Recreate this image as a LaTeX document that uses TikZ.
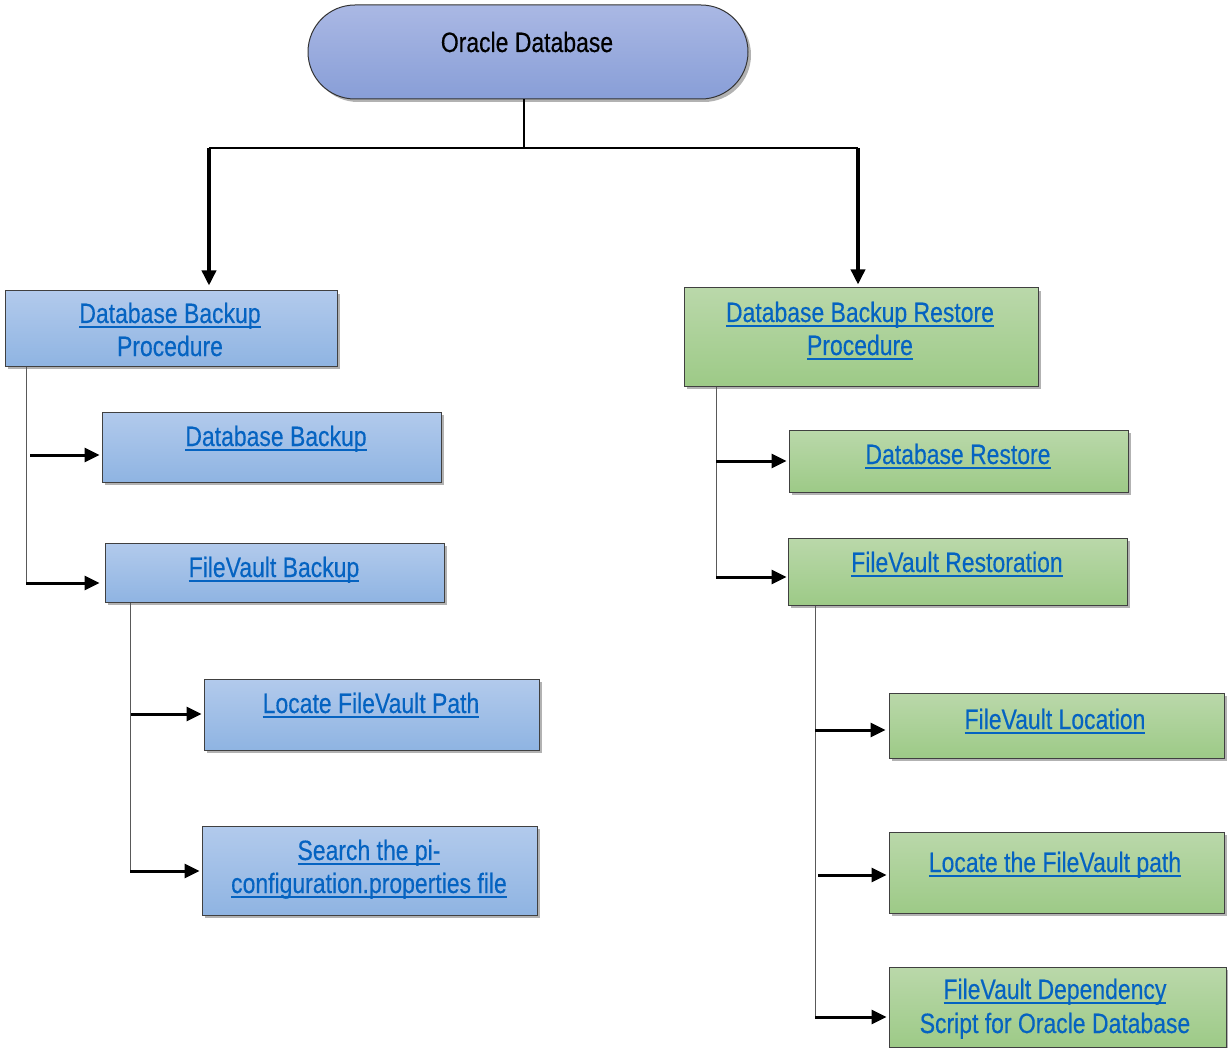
\documentclass[tikz,border=0pt]{standalone}
\usepackage{fontspec}
\setmainfont{Liberation Sans}[FakeStretch=0.82,FakeBold=0.35]
\usetikzlibrary{arrows.meta,shadows}
\definecolor{linkc}{HTML}{0563C1}
\definecolor{btop}{RGB}{178,202,236}
\definecolor{bbot}{RGB}{143,180,226}
\definecolor{gtop}{RGB}{186,216,170}
\definecolor{gbot}{RGB}{157,202,135}
\definecolor{rtop}{RGB}{170,184,228}
\definecolor{rbot}{RGB}{136,158,215}
\newsavebox\ulbox
\newcommand\ulink[1]{\sbox\ulbox{#1}\rlap{\rule[-0.17em]{\wd\ulbox}{0.07em}}\usebox\ulbox}
\begin{document}
\begin{tikzpicture}[x=1pt,y=-1pt,
  font=\fontsize{28}{33}\selectfont,
  boxbase/.style={draw=black!75, line width=1pt, rectangle, inner sep=0pt,
    drop shadow={shadow xshift=3pt, shadow yshift=-3pt, opacity=0.3, fill=black}},
  bluebox/.style={boxbase, top color=btop, bottom color=bbot},
  greenbox/.style={boxbase, top color=gtop, bottom color=gbot},
  lbl/.style={anchor=base, inner sep=0pt, text=linkc},
  trunk/.style={draw=black!65, line width=1pt},
  joinline/.style={draw=black, line width=1.3pt},
  harrow/.style={line width=3pt, -{Triangle[length=15pt,width=14pt]}},
  varrow/.style={line width=3.5pt, -{Triangle[length=15pt,width=14pt]}}]
\useasboundingbox (0,0) rectangle (1228,1048);
\fill[white] (0,0) rectangle (1228,1048);

% root
\node[draw=black!80, line width=1pt, rounded corners=47pt, minimum width=440pt, minimum height=94pt,
  top color=rtop, bottom color=rbot, inner sep=0pt,
  drop shadow={shadow xshift=3pt, shadow yshift=-3pt, opacity=0.3, fill=black}] (root) at (528,52) {};
\node[anchor=base, inner sep=0pt] (roott) at (527,52) {Oracle Database};

% blue boxes
\node[bluebox, minimum width=332pt, minimum height=75pt] (b1) at (171,328.5) {};
\node[bluebox, minimum width=339pt, minimum height=70pt] (b2) at (271.5,447) {};
\node[bluebox, minimum width=339pt, minimum height=59pt] (b3) at (274.5,572.5) {};
\node[bluebox, minimum width=335pt, minimum height=71pt] (b4) at (371.5,714.5) {};
\node[bluebox, minimum width=335pt, minimum height=89pt] (b5) at (369.5,870.5) {};

% green boxes
\node[greenbox, minimum width=354pt, minimum height=98pt] (g1) at (861,337) {};
\node[greenbox, minimum width=339pt, minimum height=62pt] (g2) at (958.5,461) {};
\node[greenbox, minimum width=339pt, minimum height=67pt] (g3) at (957.5,571.5) {};
\node[greenbox, minimum width=335pt, minimum height=65pt] (g4) at (1056.5,725.5) {};
\node[greenbox, minimum width=335pt, minimum height=81pt] (g5) at (1056.5,872.5) {};
\node[greenbox, minimum width=337pt, minimum height=80pt] (g6) at (1057.5,1007) {};

% labels
\node[lbl] (b1t1) at (170,323) {\ulink{Database Backup}};
\node[lbl] (b1t2) at (170,356) {Procedure};
\node[lbl] (b2t) at (276,446) {\ulink{Database Backup}};
\node[lbl] (b3t) at (274,577) {\ulink{FileVault Backup}};
\node[lbl] (b4t) at (371,713) {\ulink{Locate FileVault Path}};
\node[lbl] (b5t1) at (369,860) {\ulink{Search the pi-}};
\node[lbl] (b5t2) at (369,893) {\ulink{configuration.properties file}};
\node[lbl] (g1t1) at (860,322) {\ulink{Database Backup Restore}};
\node[lbl] (g1t2) at (860,355) {\ulink{Procedure}};
\node[lbl] (g2t) at (958,464) {\ulink{Database Restore}};
\node[lbl] (g3t) at (957,572) {\ulink{FileVault Restoration}};
\node[lbl] (g4t) at (1055,729) {\ulink{FileVault Location}};
\node[lbl] (g5t) at (1055,872) {\ulink{Locate the FileVault path}};
\node[lbl] (g6t1) at (1055,999) {\ulink{FileVault Dependency}};
\node[lbl] (g6t2) at (1055,1033) {Script for Oracle Database};

% top connectors
\coordinate (j) at (524,148);
\coordinate (jl) at (209,148);
\coordinate (jr) at (858,148);
\draw[joinline] (root.south -| j) -- (j);
\draw[joinline] (jl) -- (jr);
\draw[varrow, shorten >=5pt] (jl) -- (jl |- b1.north);
\draw[varrow, shorten >=3pt] (jr) -- (jr |- g1.north);

% left trunk 1
\coordinate (t1) at (26,583);
\coordinate (a1) at (30,455);
\draw[trunk] (t1 |- b1.south) -- (t1);
\draw[harrow, shorten >=2pt] (a1) -- (a1 -| b2.west);
\draw[harrow, shorten >=5pt] (t1) -- (t1 -| b3.west);

% left trunk 2
\coordinate (t2) at (130,871);
\coordinate (a2) at (131,714);
\draw[trunk] (t2 |- b3.south) -- (t2);
\draw[harrow, shorten >=2pt] (a2) -- (a2 -| b4.west);
\draw[harrow, shorten >=2pt] (t2) -- (t2 -| b5.west);

% right trunk 1
\coordinate (t3) at (716,577);
\coordinate (a3) at (716,461);
\draw[trunk] (t3 |- g1.south) -- (t3);
\draw[harrow, shorten >=2pt] (a3) -- (a3 -| g2.west);
\draw[harrow, shorten >=1pt] (t3) -- (t3 -| g3.west);

% right trunk 2
\coordinate (t4) at (815,1017);
\coordinate (a4) at (815,730);
\coordinate (a5) at (818,875);
\draw[trunk] (t4 |- g3.south) -- (t4);
\draw[harrow, shorten >=3pt] (a4) -- (a4 -| g4.west);
\draw[harrow, shorten >=2pt] (a5) -- (a5 -| g5.west);
\draw[harrow, shorten >=2pt] (t4) -- (t4 -| g6.west);
\end{tikzpicture}
\end{document}
